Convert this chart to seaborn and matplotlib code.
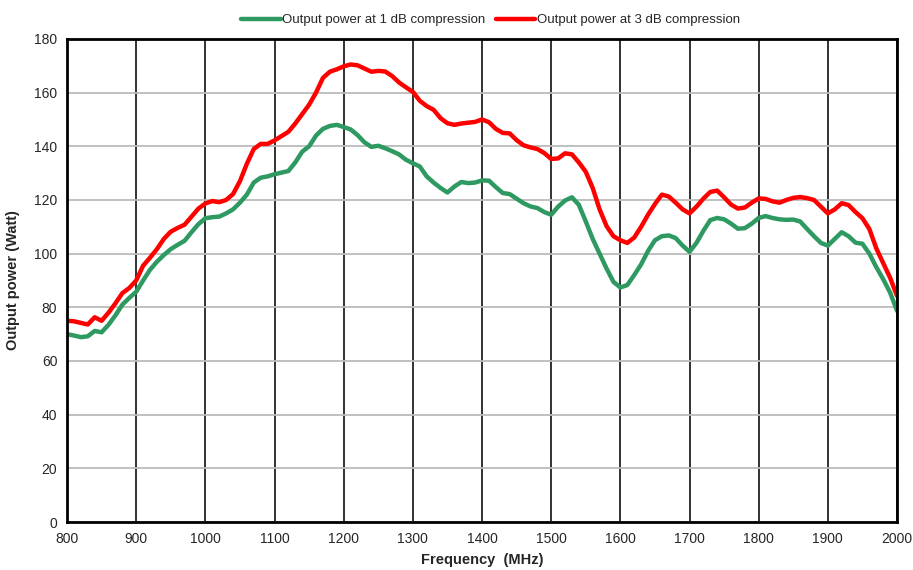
import numpy as np
import pandas as pd
import seaborn as sns
import matplotlib.pyplot as plt

# data (MHz, Watt)
freq = list(range(800, 2001, 10))

p1db = [70, 69.5, 68.9, 69.2, 71.2, 70.7, 73.5, 77, 81, 83.5,
        85.8, 90, 94, 97, 99.5, 101.7, 103.3, 104.8, 108, 111,
        113.2, 113.6, 113.8, 115, 116.5, 119, 122, 126.5, 128.3, 128.8,
        129.6, 130.2, 130.8, 134, 138, 140, 144, 146.5, 147.6, 148,
        147.2, 146.3, 144.2, 141.5, 139.8, 140.2, 139.3, 138.2, 137, 135,
        133.7, 132.5, 128.8, 126.5, 124.5, 122.8, 125, 126.7, 126.3, 126.5,
        127.3, 127.2, 124.8, 122.6, 122.2, 120.5, 118.8, 117.6, 117, 115.5,
        114.5, 117.5, 119.8, 121, 118.2, 112, 105.5, 100, 94.5, 89.5,
        87.4, 88.3, 92, 96, 101, 105, 106.5, 106.8, 105.8, 103,
        100.7, 104, 108.5, 112.5, 113.3, 112.8, 111.2, 109.3, 109.5, 111.2,
        113.3, 114, 113.3, 112.8, 112.6, 112.7, 112, 109.2, 106.5, 104,
        103, 105.5, 108, 106.5, 104.1, 103.7, 100, 95, 90.5, 85.5,
        78.7]

p3db = [75, 74.8, 74.2, 73.6, 76.3, 75, 78, 81.5, 85.3, 87.2,
        90, 95.5, 98.5, 101.7, 105.5, 108.2, 109.6, 110.8, 113.8, 116.8,
        118.7, 119.6, 119.2, 120, 122.2, 127, 133.5, 139, 140.9, 140.9,
        142.2, 143.8, 145.4, 148.5, 152, 155.5, 160, 165.5, 167.8, 168.7,
        169.8, 170.5, 170.2, 169, 167.8, 168.1, 167.9, 166.2, 163.8, 162,
        160.3, 157, 155, 153.6, 150.5, 148.6, 148, 148.5, 148.8, 149.1,
        150, 149, 146.5, 145, 144.8, 142.3, 140.4, 139.6, 139, 137.5,
        135.3, 135.5, 137.4, 137, 134, 130.5, 124.5, 116.5, 110.3, 106.5,
        105, 104, 106, 110, 114.5, 118.5, 122, 121.3, 119, 116.5,
        115, 117.5, 120.5, 123, 123.5, 121, 118.3, 116.8, 117.2, 119,
        120.6, 120.4, 119.5, 119, 120, 120.8, 121.1, 120.7, 120, 117.5,
        115, 116.5, 118.8, 118.1, 115.5, 113.2, 109.2, 102, 96.5, 91,
        84.3]

labels = ["Output power at 1 dB compression", "Output power at 3 dB compression"]
colors = ["#2e9a62", "#ff0000"]

df = pd.concat([
    pd.DataFrame({"freq": freq, "power": p1db, "series": labels[0]}),
    pd.DataFrame({"freq": freq, "power": p3db, "series": labels[1]}),
])

sns.set_style("white")
plt.rcParams['font.family'] = ['Liberation Sans Narrow', 'Liberation Sans', 'DejaVu Sans']

fig = plt.figure(figsize=(9.13, 5.70), dpi=100)
ax = fig.add_axes([0.0734, 0.0842, 0.9091, 0.8474])

sns.lineplot(data=df, x="freq", y="power", hue="series", palette=colors,
             linewidth=3.2, ax=ax)

ax.set_xlim(800, 2000)
ax.set_ylim(0, 180)
ax.set_xticks(np.arange(800, 2001, 100))
ax.set_yticks(np.arange(0, 181, 20))
ax.xaxis.grid(True, color="#222222", linewidth=1.3)
ax.yaxis.grid(True, color="#bbbbbb", linewidth=1.3)
ax.set_axisbelow(True)
for s in ax.spines.values():
    s.set_color("black")
    s.set_linewidth(2)
ax.tick_params(axis="both", direction="out", length=4, width=1, color="black",
               labelsize=10, pad=3)

ax.set_xlabel("Frequency  (MHz)", fontsize=10.5, fontweight="bold", labelpad=5)
ax.set_ylabel("Output power (Watt)", fontsize=10.5, fontweight="bold", labelpad=10)

ax.legend(loc="lower center", bbox_to_anchor=(0.51, 1.015), ncol=2, frameon=False,
          fontsize=9.5, handlelength=3.0, handletextpad=0.1, columnspacing=0.8,
          borderaxespad=0)

fig.savefig("out.png", dpi=100)
